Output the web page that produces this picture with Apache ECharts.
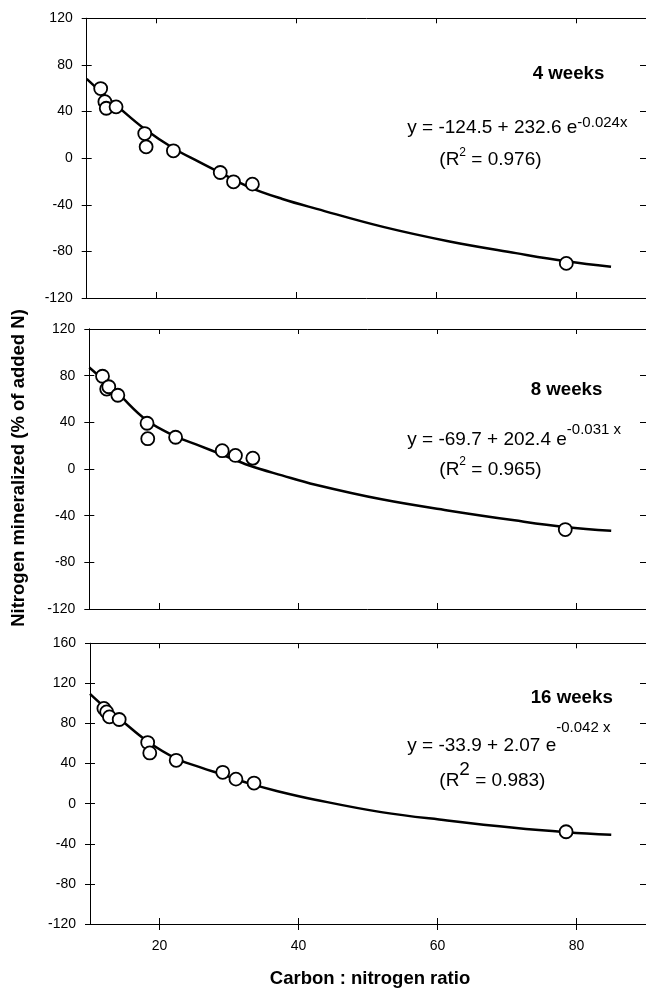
<!DOCTYPE html>
<html><head><meta charset="utf-8">
<script src="https://cdn.jsdelivr.net/npm/echarts@6/dist/echarts.min.js"></script>
<style>html,body{margin:0;padding:0;background:#fff}#c{width:646px;height:990px}</style>
</head><body><div id="c"></div>
<script>
// ---------- data ----------
const xTicks = [20, 40, 60, 80];
const panelNames = ['4 weeks', '8 weeks', '16 weeks'];

// 4 weeks
const pts4X = [12.0, 12.6, 12.8, 14.2, 18.3, 18.5, 22.4, 29.1, 31.0, 33.7, 78.6];
const pts4Y = [59.7, 48.5, 42.8, 44.0, 21.1, 9.7, 6.3, -12.3, -20.3, -22.3, -90.3];
const fit4X = [10, 12, 14.3, 18.3, 22.4, 26, 29.1, 33.3, 38, 42.9, 52.4, 61.9, 71.4, 78.6, 85];
const fit4Y = [68, 57, 45, 25, 8.5, -3, -12.5, -25, -35, -43.5, -59, -71.5, -81.5, -88.5, -93.2];

// 8 weeks
const pts8X = [11.9, 12.5, 12.8, 14.1, 18.3, 18.4, 22.4, 29.1, 31.0, 33.5, 78.4];
const pts8Y = [79.5, 68.5, 70.5, 63.2, 39.2, 26.0, 27.2, 15.7, 11.6, 9.3, -51.9];
const fit8X = [10, 12, 14.1, 18.3, 22.4, 25.8, 29, 33, 37.7, 42.5, 52, 61.5, 71.1, 78.4, 85];
const fit8Y = [87, 76.5, 65, 41.5, 28, 20, 12.5, 3, -5.5, -13.5, -26, -35.5, -44, -49.7, -53];

// 16 weeks
const pts16X = [12.0, 12.4, 12.8, 14.2, 18.3, 18.6, 22.4, 29.1, 31.0, 33.6, 78.5];
const pts16Y = [95, 91.6, 86.6, 84, 61, 50.6, 43.3, 31.3, 24.5, 20.6, -28];
const fit16X = [10, 12, 14.2, 18.3, 22.4, 26, 29.1, 33, 37, 42.4, 51.9, 61.4, 71, 78.6, 85];
const fit16Y = [109.5, 97, 85, 62, 45, 36, 29, 20, 12.5, 4, -8.4, -16.7, -24, -28.4, -31];

const yRanges = [[-120, 120], [-120, 120], [-120, 160]];
const xRange = [10, 90];

// ---------- layout ----------
const FONT = '"Liberation Sans", Arial, Helvetica, sans-serif';
const gridBoxes = [
  {left: 86.7, top: 18.3, width: 560, height: 279.7},
  {left: 89.3, top: 329, width: 560, height: 280},
  {left: 90, top: 643.3, width: 560, height: 280.7}
];
const ptsX = [pts4X, pts8X, pts16X], ptsY = [pts4Y, pts8Y, pts16Y];
const fitX = [fit4X, fit8X, fit16X], fitY = [fit4Y, fit8Y, fit16Y];

const grid = [], xAxis = [], yAxis = [], series = [];
const lineStyle = {color: '#000', width: 1};
function axisLine() { return {show: true, onZero: false, lineStyle}; }

gridBoxes.forEach((g, i) => {
  grid.push(g);
  const showX = (i === 2);
  const bx = xAxis.length;
  xAxis.push({type: 'value', gridIndex: i, position: 'bottom', min: xRange[0], max: xRange[1],
    axisLine: axisLine(), splitLine: {show: false},
    axisTick: {show: true, inside: !showX, length: 6, customValues: xTicks, lineStyle},
    axisLabel: {show: showX, customValues: xTicks, margin: 15, fontSize: 14, color: '#000', fontFamily: FONT}});
  xAxis.push({type: 'value', gridIndex: i, position: 'top', min: xRange[0], max: xRange[1],
    axisLine: axisLine(), splitLine: {show: false},
    axisTick: {show: true, inside: true, length: 5, customValues: xTicks, lineStyle},
    axisLabel: {show: false}});
  if (showX) {
    xAxis.push({type: 'value', gridIndex: i, position: 'bottom', min: xRange[0], max: xRange[1],
      axisLine: axisLine(), splitLine: {show: false},
      axisTick: {show: true, inside: true, length: 6, customValues: xTicks, lineStyle},
      axisLabel: {show: false}});
  }
  const by = yAxis.length;
  const [mn, mx] = yRanges[i];
  yAxis.push({type: 'value', gridIndex: i, position: 'left', min: mn, max: mx, interval: 40,
    axisLine: axisLine(), splitLine: {show: false},
    axisTick: {show: true, inside: false, length: 5, lineStyle},
    axisLabel: {show: true, margin: 14, fontSize: 14, color: '#000', fontFamily: FONT}});
  yAxis.push({type: 'value', gridIndex: i, position: 'left', min: mn, max: mx, interval: 40,
    axisLine: axisLine(), splitLine: {show: false},
    axisTick: {show: true, inside: true, length: 5, lineStyle},
    axisLabel: {show: false}});
  yAxis.push({type: 'value', gridIndex: i, position: 'right', min: mn, max: mx, interval: 40,
    axisLine: axisLine(), splitLine: {show: false},
    axisTick: {show: true, inside: true, length: 6, lineStyle},
    axisLabel: {show: false}});

  series.push({type: 'line', name: panelNames[i] + ' fit', xAxisIndex: bx, yAxisIndex: by,
    data: fitX[i].map((x, k) => [x, fitY[i][k]]),
    showSymbol: false, smooth: 0.4, lineStyle: {color: '#000', width: 2.5}, z: 2, silent: true});
  series.push({type: 'scatter', name: panelNames[i], xAxisIndex: bx, yAxisIndex: by,
    data: ptsX[i].map((x, k) => [x, ptsY[i][k]]),
    symbol: 'circle', symbolSize: 13,
    itemStyle: {color: '#fff', borderColor: '#000', borderWidth: 1.8, opacity: 1}, z: 3});
});

function rt(fs, lh, va, weight) {
  return {fontSize: fs, fontFamily: FONT, fontWeight: weight || 'normal', lineHeight: lh, verticalAlign: va, fill: '#000'};
}
function plain(text, x, y, opts) {
  return Object.assign({type: 'text', x, y, silent: true,
    style: {text, font: (opts.weight || 'normal') + ' ' + opts.size + 'px ' + FONT, fill: '#000',
      align: opts.align || 'left', textAlign: opts.align || 'left', verticalAlign: 'middle', textVerticalAlign: 'middle'}},
    opts.rotation ? {rotation: opts.rotation} : {});
}
function eq(main, sup, x, top, lh, supSize) {
  return {type: 'text', x, y: top, silent: true,
    style: {text: '{m|' + main + '}{s|' + sup + '}', align: 'left', textAlign: 'left', verticalAlign: 'top', textVerticalAlign: 'top',
      rich: {m: rt(19, lh, 'bottom'), s: rt(supSize, lh, 'top')}}};
}
function r2(pre, sup, post, x, top, lh, supSize) {
  return {type: 'text', x, y: top, silent: true,
    style: {text: '{m|' + pre + '}{s|' + sup + '}{m|' + post + '}', align: 'left', textAlign: 'left', verticalAlign: 'top', textVerticalAlign: 'top',
      rich: {m: rt(19, lh, 'bottom'), s: rt(supSize, lh, 'top')}}};
}

const graphic = [
  plain('Nitrogen mineralized (% of added N)', 19, 468, {size: 18.5, weight: 'bold', align: 'center', rotation: Math.PI / 2}),
  plain('Carbon : nitrogen ratio', 370, 979, {size: 18.5, weight: 'bold', align: 'center'}),
  plain(panelNames[0], 532.7, 74, {size: 18.7, weight: 'bold'}),
  plain(panelNames[1], 530.7, 390, {size: 18.7, weight: 'bold'}),
  plain(panelNames[2], 530.7, 697.5, {size: 18.7, weight: 'bold'}),
  eq('y = -124.5 + 232.6 e', '-0.024x', 407.3, 115.5, 22, 15),
  eq('y = -69.7 + 202.4 e', '-0.031 x', 407.3, 422.5, 27, 15),
  eq('y = -33.9 + 2.07 e', '-0.042 x', 407.3, 720.5, 35, 15),
  r2('(R', '2', ' = 0.976)', 439.3, 146.5, 23, 12),
  r2('(R', '2', ' = 0.965)', 439.3, 455.7, 24, 12),
  r2('(R', '2', ' = 0.983)', 439.3, 760.5, 30, 19)
];

const chart = echarts.init(document.getElementById('c'), null, {renderer: 'canvas'});
chart.setOption({animation: false, backgroundColor: '#fff', grid, xAxis, yAxis, series, graphic});
</script>
</body></html>
